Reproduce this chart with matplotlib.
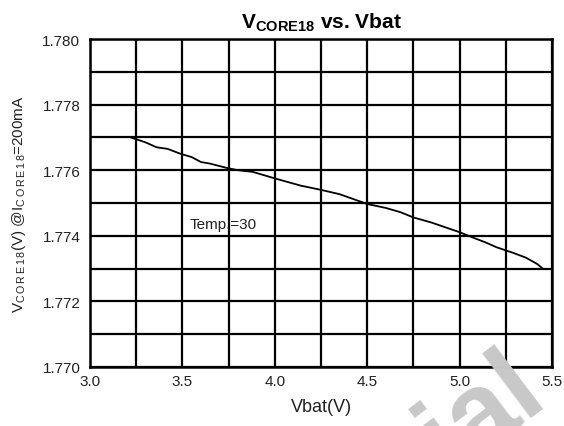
import numpy as np
import matplotlib
matplotlib.use('Agg')
import matplotlib.pyplot as plt
from matplotlib.ticker import MultipleLocator

plt.rcParams['font.family'] = ['Liberation Sans', 'DejaVu Sans']
plt.rcParams['mathtext.fontset'] = 'custom'
plt.rcParams['mathtext.rm'] = 'Liberation Sans'
plt.rcParams['mathtext.bf'] = 'Liberation Sans:bold'

# data (Temp = 30)
vbat = [3.22, 3.30, 3.36, 3.42, 3.49, 3.55, 3.60, 3.65, 3.74, 3.80,
        3.88, 4.00, 4.14, 4.25, 4.35, 4.42, 4.50, 4.60, 4.68, 4.75,
        4.85, 5.00, 5.07, 5.14, 5.20, 5.29, 5.36, 5.42, 5.45]
vcore = [1.77700, 1.77685, 1.77670, 1.77665, 1.77650, 1.77640, 1.77625, 1.77620, 1.77607, 1.77600,
         1.77595, 1.77575, 1.77553, 1.77540, 1.77527, 1.77513, 1.77497, 1.77485, 1.77472, 1.77456,
         1.77440, 1.77411, 1.77395, 1.77380, 1.77365, 1.77348, 1.77333, 1.77314, 1.77300]

xticks = [3.0, 3.5, 4.0, 4.5, 5.0, 5.5]
yticks = [1.770, 1.772, 1.774, 1.776, 1.778, 1.780]

fig = plt.figure(figsize=(5.64, 4.27), dpi=100)
ax = fig.add_axes([0.1596, 0.1382, 0.8191, 0.7681])

ax.plot(vbat, vcore, color='black', lw=1.3, zorder=3)

ax.set_xlim(3.0, 5.5)
ax.set_ylim(1.770, 1.780)
ax.set_xticks(xticks)
ax.set_yticks(yticks)
ax.set_xticklabels(['%.1f' % v for v in xticks])
ax.set_yticklabels(['%.3f' % v for v in yticks])
ax.xaxis.set_minor_locator(MultipleLocator(0.25))
ax.yaxis.set_minor_locator(MultipleLocator(0.001))
ax.grid(which='both', color='black', lw=1.6)
ax.tick_params(which='both', length=0, labelsize=11, colors='#222222')
ax.tick_params(axis='x', pad=5)
ax.tick_params(axis='y', pad=7)
for s in ax.spines.values():
    s.set_linewidth(1.8)
    s.set_color('black')

ax.text(3.54, 1.77436, 'Temp.=30', fontsize=11, color='#222222', va='center')

ax.set_xlabel('Vbat(V)', fontsize=13, color='#222222', labelpad=7)
ax.set_ylabel(r'V$_{\mathrm{C\,O\,R\,E\,1\,8}}$(V) @I$_{\mathrm{C\,O\,R\,E\,1\,8}}$=200mA',
              fontsize=11, color='#222222', labelpad=10)
ax.set_title(r'V$_{\mathbf{CORE18}}$ vs. Vbat', fontsize=15, fontweight='bold', pad=8)

# watermark fragment
fig.text(0.975, 0.062, 'Confidential', fontsize=80, fontweight='bold', color='#c8c8c8',
         rotation=37, rotation_mode='anchor', ha='right', va='baseline', zorder=10)

fig.savefig('out.png', dpi=100)
